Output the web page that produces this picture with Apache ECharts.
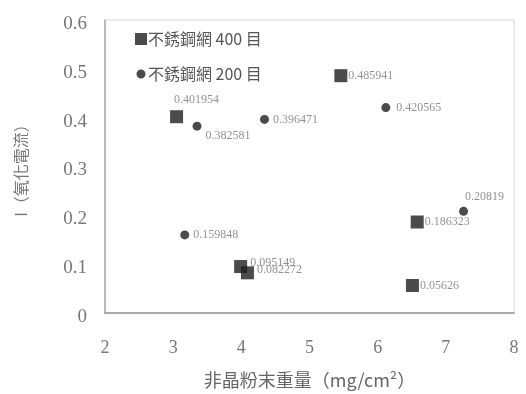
<!DOCTYPE html>
<html>
<head>
<meta charset="utf-8">
<script src="https://cdn.jsdelivr.net/npm/echarts@6/dist/echarts.min.js"></script>
<style>
  html, body { margin: 0; padding: 0; background: #fff; }
  #chart { width: 526px; height: 394px; }
</style>
</head>
<body>
<div id="chart"></div>
<script>
// Mesh 400: powder loading (mg/cm²) and current
const mesh400X = [3.05, 3.99, 4.09, 5.46, 6.58, 6.51];
const mesh400Y = [0.401954, 0.095149, 0.082272, 0.485941, 0.186323, 0.05626];
// Mesh 200
const mesh200X = [3.35, 4.34, 6.12, 7.26, 3.17];
const mesh200Y = [0.382581, 0.396471, 0.420565, 0.20819, 0.159848];

const seriesNames = ['不銹鋼網 400 目', '不銹鋼網 200 目'];
const xTicks = { min: 2, max: 8, step: 1 };
const yTicks = { min: 0, max: 0.6, step: 0.1 };

// label placement per point (layout only)
const place400 = [
  { position: 'top', distance: 4, offset: [20, 0] },
  { position: 'right', distance: 3, offset: [0, -4] },
  { position: 'right', distance: 3, offset: [0, -3] },
  { position: 'right', distance: 1 },
  { position: 'right', distance: 1 },
  { position: 'right', distance: 1 }
];
const place200 = [
  { position: 'right', distance: 4, offset: [0, 10] },
  { position: 'right', distance: 4 },
  { position: 'right', distance: 6 },
  { position: 'top', distance: 4, offset: [21, 0] },
  { position: 'right', distance: 4 }
];

const serif = '"Liberation Serif", "Noto Sans CJK TC", serif';
const cjk = '"Noto Sans CJK TC", "Liberation Serif", serif';
const labelBase = { show: true, color: '#777', fontFamily: serif, fontSize: 12 };

function build(xs, ys, places) {
  return xs.map((x, i) => ({
    value: [x, ys[i]],
    label: Object.assign({}, labelBase, places[i], { formatter: String(ys[i]) })
  }));
}

const chart = echarts.init(document.getElementById('chart'), null, { renderer: 'canvas' });
chart.setOption({
  animation: false,
  backgroundColor: '#fff',
  grid: {
    left: 105, right: 12, top: 20, bottom: 78,
    show: true, borderColor: '#d6d6d6', borderWidth: 1
  },
  legend: {
    orient: 'vertical',
    left: 130, top: 26,
    itemGap: 19,
    itemWidth: 12, itemHeight: 12,
    textStyle: { color: '#555', fontSize: 16, fontFamily: cjk, padding: [0, 0, 0, -4] },
    data: [
      { name: seriesNames[0], icon: 'rect' },
      { name: seriesNames[1], icon: 'path://M0,0h0.01M12,12h0.01M6,1.5a4.5,4.5 0 1,0 0.01,0z' }
    ]
  },
  xAxis: {
    type: 'value',
    min: xTicks.min, max: xTicks.max, interval: xTicks.step,
    name: '非晶粉末重量（mg/cm²）',
    nameLocation: 'middle', nameGap: 58,
    nameTextStyle: { color: '#666', fontSize: 18, fontFamily: cjk },
    axisLine: { show: true, lineStyle: { color: '#aaa', width: 2 } },
    axisTick: { show: false },
    splitLine: { show: false },
    axisLabel: { color: '#777', fontSize: 18, fontFamily: serif, margin: 26 }
  },
  yAxis: {
    type: 'value',
    min: yTicks.min, max: yTicks.max, interval: yTicks.step,
    name: 'I（氧化電流）',
    nameLocation: 'middle', nameGap: 76,
    nameTextStyle: { color: '#777', fontSize: 16, fontFamily: cjk },
    axisLine: { show: true, lineStyle: { color: '#aaa', width: 1.5 } },
    axisTick: { show: false },
    splitLine: { show: false },
    axisLabel: {
      margin: 18,
      formatter: v => '{v|' + (Math.round(v * 10) / 10).toString() + '}',
      rich: {
        v: { color: '#777', fontSize: 19, fontFamily: serif, padding: [8, 0, 0, 0] }
      }
    }
  },
  series: [
    {
      name: seriesNames[0], type: 'scatter', symbol: 'rect', symbolSize: 13,
      itemStyle: { color: '#1e1e1e' },
      data: build(mesh400X, mesh400Y, place400)
    },
    {
      name: seriesNames[1], type: 'scatter', symbol: 'circle', symbolSize: 9,
      itemStyle: { color: '#1e1e1e' },
      data: build(mesh200X, mesh200Y, place200)
    }
  ]
});
</script>
</body>
</html>
